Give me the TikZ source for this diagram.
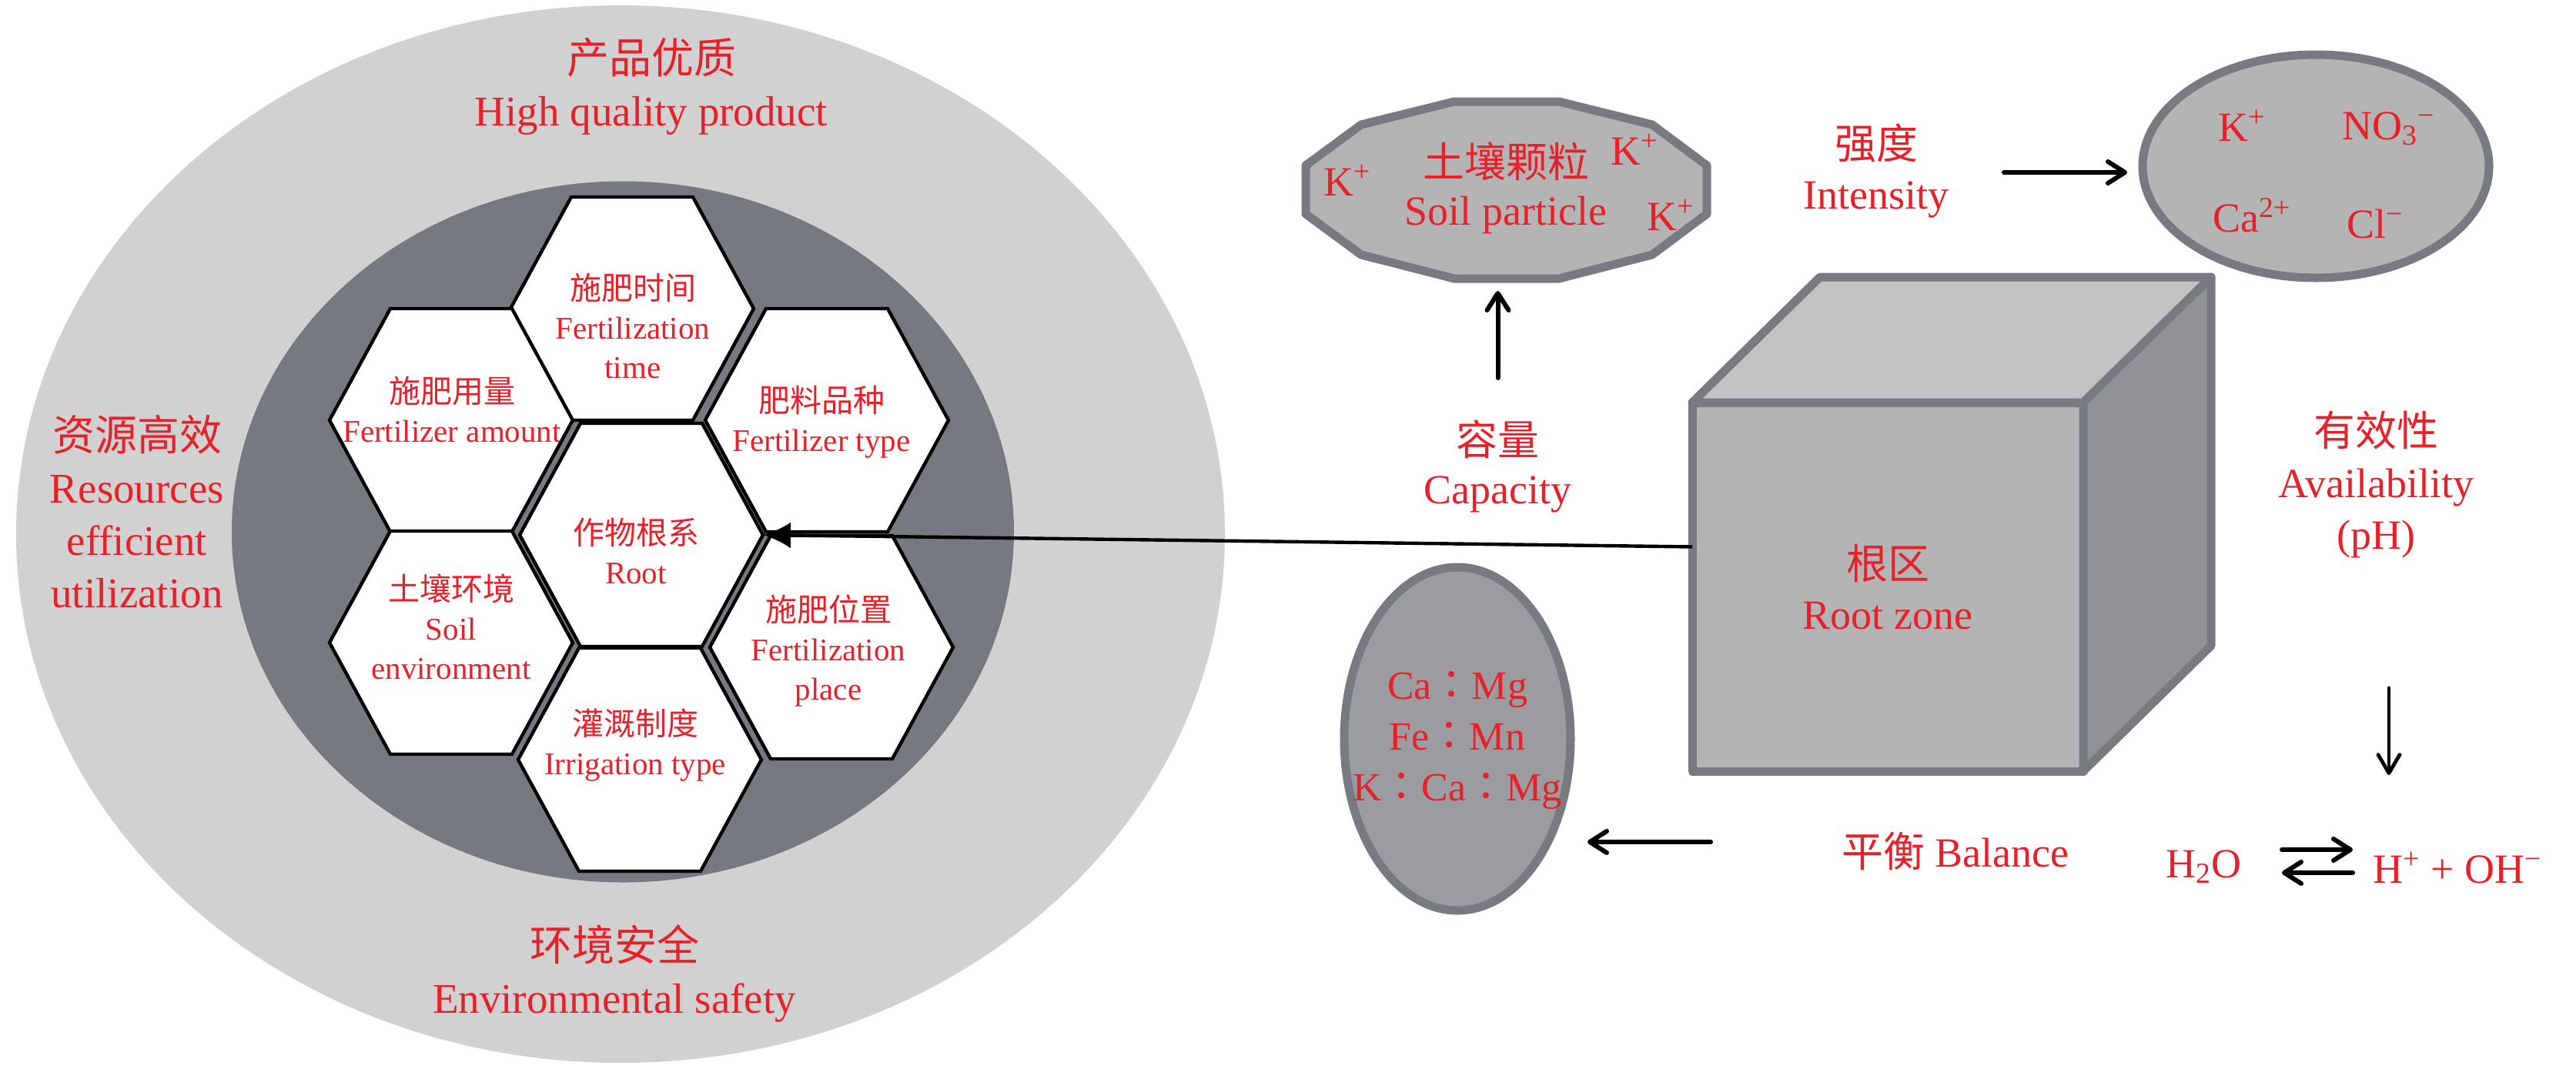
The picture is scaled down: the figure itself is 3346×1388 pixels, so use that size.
\documentclass[tikz,border=0pt]{standalone}
\usepackage{fontspec}
\setmainfont{Liberation Serif}
\newfontfamily\cjk{Noto Sans CJK SC}
\newfontfamily\cjkjp{Noto Sans CJK JP}
\usetikzlibrary{shapes.geometric,arrows.meta,calc}
\definecolor{txtred}{RGB}{232,32,41}
\definecolor{outerg}{RGB}{209,209,209}
\definecolor{innerg}{RGB}{118,121,128}
\definecolor{edgeg}{RGB}{119,122,128}
\definecolor{fillmid}{RGB}{180,180,180}
\definecolor{filltop}{RGB}{194,194,194}
\definecolor{fillside}{RGB}{145,146,150}
\definecolor{filldark}{RGB}{155,156,160}
\newcommand{\cc}{{\cjkjp ：}}
\tikzset{
  hexline/.style={draw=black,line width=2.2pt,fill=white,line join=miter},
  hexa/.pic={
    \path[hexline] (-158,0) -- (-79,-145) -- (79,-145) -- (158,0) -- (79,145) -- (-79,145) -- cycle;
    \coordinate (-east) at (158,0);
  },
  lab/.style={text=txtred,align=center,inner sep=0pt},
  biglab/.style={lab,font=\fontsize{27.5pt}{34pt}\selectfont},
  hexlab/.style={lab,font=\fontsize{20.5pt}{25.5pt}\selectfont},
  rlab/.style={lab,font=\fontsize{27pt}{32.5pt}\selectfont},
  shapeedge/.style={draw=edgeg,line width=5.5pt,line join=round},
  barb/.style={black,line width=3pt,line cap=round,-{Straight Barb[round,length=11pt,width=14pt]}},
  thinbarb/.style={black,line width=2.4pt,line cap=round,-{Straight Barb[round,length=12pt,width=14pt]}},
  rootarrow/.style={black,line width=2.2pt,-{Latex[length=18pt,width=17pt]}}
}
\begin{document}
\begin{tikzpicture}[x=0.5pt,y=-0.5pt]
\useasboundingbox (0,0) rectangle (3346,1388);

% ---------------- left: ellipses and honeycomb
\node[ellipse,fill=outerg,minimum width=785pt,minimum height=687pt,inner sep=0pt] (outerE) at (806,694) {};
\node[ellipse,fill=innerg,minimum width=508pt,minimum height=455.5pt,inner sep=0pt] (innerE) at (809,691) {};

\pic (hT)  at (821,401) {hexa};
\pic (hUL) at (586,546) {hexa};
\pic (hUR) at (1074,546) {hexa};
\pic (hLL) at (586,835) {hexa};
\pic (hLR) at (1080,841) {hexa};
\pic (hB)  at (831,987) {hexa};
\pic (hC)  at (833,695) {hexa};

\node[hexlab] (tT)  at (822,423) {{\cjk 施肥时间}\\Fertilization\\time};
\node[hexlab] (tUL) at (587,532) {{\cjk 施肥用量}\\Fertilizer amount};
\node[hexlab] (tUR) at (1067,548) {{\cjk 肥料品种}\\Fertilizer type};
\node[hexlab] (tC)  at (826,716) {{\cjk 作物根系}\\Root};
\node[hexlab] (tLL) at (586,814) {{\cjk 土壤环境}\\Soil\\environment};
\node[hexlab] (tLR) at (1076,845) {{\cjk 施肥位置}\\Fertilization\\place};
\node[hexlab] (tB)  at (825,968) {{\cjk 灌溉制度}\\Irrigation type};

\node[biglab] (lTop)  at (846,112) {{\cjk 产品优质}\\High quality product};
\node[biglab] (lLeft) at (178,665) {{\cjk 资源高效}\\Resources\\efficient\\utilization};
\node[biglab] (lBot)  at (798,1265) {{\cjk 环境安全}\\Environmental safety};

% ---------------- root zone cube
\node[draw=edgeg,line width=5.5pt,line join=round,fill=fillmid,minimum width=254pt,minimum height=239.5pt,
      inner sep=0pt,outer sep=0pt,text=txtred,align=center,font=\fontsize{27pt}{32.5pt}\selectfont]
      (cube) at (2452,762.5) {{\cjk 根区}\\Root zone};
\path[shapeedge,fill=filltop] (cube.north west) -- ++(166,-163) -- ++(508,0) -- (cube.north east) -- cycle;
\path[shapeedge,fill=fillside] (cube.north east) -- ++(166,-163) -- ++(0,479) -- (cube.south east) -- cycle;

% ---------------- arrow from root zone to root
\draw[rootarrow] ($(cube.west)+(0,-52)$) -- (hC-east);

% ---------------- soil particle
\path[shapeedge,fill=fillmid] (1889,132) -- (2025,132) -- (2146,162) -- (2217,215) -- (2217,278) -- (2146,331)
   -- (2025,362) -- (1889,362) -- (1768,331) -- (1696,278) -- (1696,215) -- (1768,162) -- cycle;
\node[rlab,font=\fontsize{27pt}{31pt}\selectfont] (soil) at (1956,244) {{\cjk 土壤颗粒}\\Soil particle};
\node[rlab,anchor=base west] (k1) at (1719,254) {K\textsuperscript{+}};
\node[rlab,anchor=base west] (k2) at (2092,214) {K\textsuperscript{+}};
\node[rlab,anchor=base west] (k3) at (2139,299) {K\textsuperscript{+}};

\node[rlab,font=\fontsize{27pt}{31.5pt}\selectfont] (cap) at (1945,606) {{\cjk 容量}\\Capacity};
\coordinate (capTail) at (1945.5,491);
\coordinate (soilTip) at (1945.5,378);
\draw[barb] (capTail) -- (soilTip);

% ---------------- intensity and ions
\node[rlab] (inten) at (2437,222) {{\cjk 强度}\\Intensity};
\node[ellipse,draw=edgeg,line width=5.5pt,fill=fillmid,minimum width=225pt,minimum height=145pt,inner sep=0pt,outer sep=0pt] (ionE) at (3008,216) {};
\node[rlab,anchor=base west] (iK)  at (2881,183) {K\textsuperscript{+}};
\node[rlab,anchor=base west] (iNO) at (3042,181) {NO\textsubscript{3}\textsuperscript{−}};
\node[rlab,anchor=base west] (iCa) at (2874,301) {Ca\textsuperscript{2+}};
\node[rlab,anchor=base west] (iCl) at (3048,309) {Cl\textsuperscript{−}};
\coordinate (intTail) at (2603,224);
\coordinate (ionTip) at (2763,224);
\draw[barb] (intTail) -- (ionTip);

% ---------------- availability
\node[rlab,font=\fontsize{27pt}{33.5pt}\selectfont] (avail) at (3086,630) {{\cjk 有效性}\\Availability\\(pH)};
\coordinate (avTail) at (3103,894);
\coordinate (avTip) at (3103,1007);
\draw[thinbarb] (avTail) -- (avTip);

\node[rlab,anchor=base west] (h2o) at (2813,1140) {H\textsubscript{2}O};
\node[rlab,anchor=base west] (hoh) at (3082,1147) {H\textsuperscript{+} + OH\textsuperscript{−}};
\coordinate (eqA) at (2964,1104);
\coordinate (eqB) at (3056,1104);
\coordinate (eqC) at (3056,1134);
\coordinate (eqD) at (2964,1134);
\draw[barb] (eqA) -- (eqB);
\draw[barb] (eqC) -- (eqD);

% ---------------- balance
\node[ellipse,draw=edgeg,line width=5.5pt,fill=filldark,minimum width=147pt,minimum height=223pt,inner sep=0pt,outer sep=0pt] (balE) at (1893,960) {};
\node[rlab,font=\fontsize{26pt}{33pt}\selectfont] (balT) at (1893,962) {Ca\cc Mg\\Fe\cc Mn\\K\cc Ca\cc Mg};
\node[rlab] (balLab) at (2540,1106) {{\cjk 平衡} Balance};
\coordinate (balTail) at (2222,1094);
\coordinate (balTip) at (2062,1094);
\draw[barb] (balTail) -- (balTip);
\end{tikzpicture}
\end{document}
